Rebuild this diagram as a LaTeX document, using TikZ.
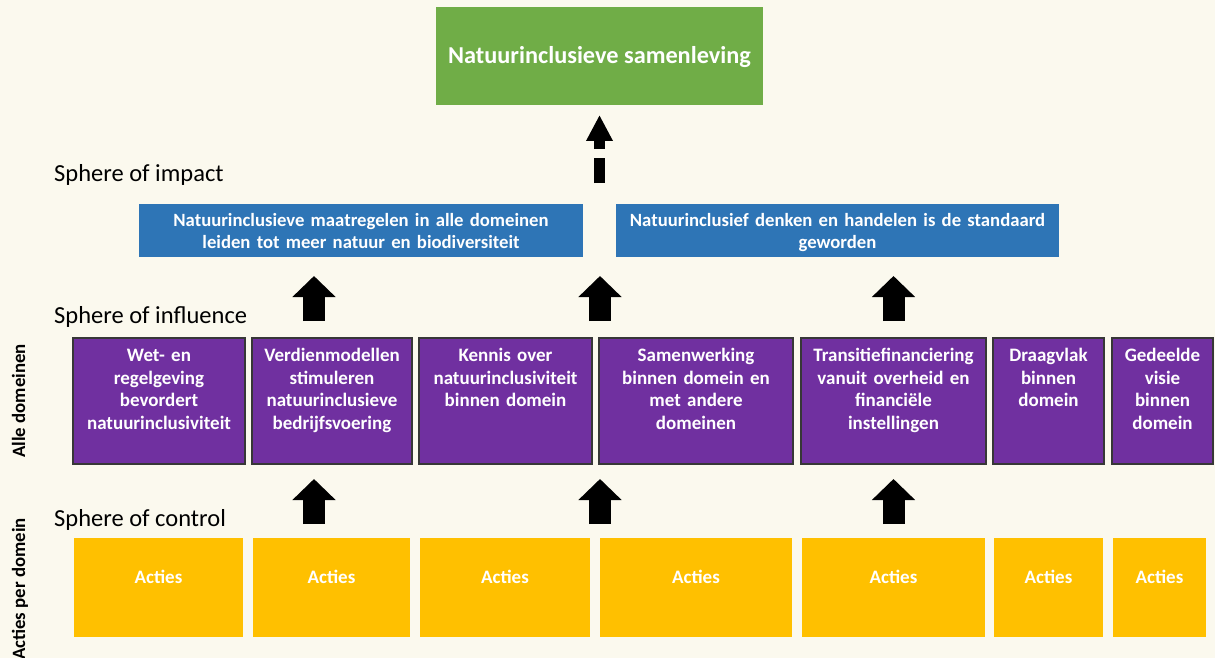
\documentclass[tikz,border=0pt]{standalone}
\usepackage{fontspec}
\setmainfont{Carlito}
\usetikzlibrary{arrows.meta}
\definecolor{bgc}{RGB}{251,249,238}
\definecolor{grn}{RGB}{112,173,71}
\definecolor{blu}{RGB}{46,117,182}
\definecolor{pur}{RGB}{112,48,160}
\definecolor{yel}{RGB}{255,192,0}
\definecolor{brd}{RGB}{55,55,55}
\begin{document}
\begin{tikzpicture}[x=1pt,y=-1pt,
  boxbase/.style={anchor=north west, inner sep=0pt, outer sep=0pt},
  gbox/.style={boxbase, fill=grn},
  bbox/.style={boxbase, fill=blu},
  pbox/.style={boxbase, fill=pur, draw=brd, line width=1.3pt},
  ybox/.style={boxbase, fill=yel},
  wtxt/.style={text=white, font=\fontsize{19}{22.5}\selectfont\bfseries, align=center, inner sep=0pt, anchor=base},
  sphere/.style={font=\fontsize{24.5}{28}\selectfont, anchor=base west, inner sep=0pt},
  side/.style={font=\fontsize{18.8}{20}\selectfont\bfseries, rotate=90, inner sep=0pt, anchor=base},
  blockarrow/.style={line width=22pt, -{Triangle[width=42pt,length=21pt]}},
]
\fill[bgc] (0,0) rectangle (1215,658);
\useasboundingbox (0,0) rectangle (1215,658);

% top
\node[gbox, minimum width=327pt, minimum height=98pt] (top) at (436,7) {};
\node[wtxt, font=\fontsize{24.3}{28}\selectfont\bfseries] (topt) at (599.5,64) {Natuurinclusieve samenleving};

% dashed arrow
\coordinate (da1) at (599.5,149);
\coordinate (da2) at (599.5,115);
\coordinate (dd1) at (599.5,183);
\coordinate (dd2) at (599.5,158);
\draw[line width=11pt, -{Triangle[width=25pt,length=26pt]}] (da1) -- (da2);
\draw[line width=11pt] (dd1) -- (dd2);

% sphere labels
\node[sphere] (simp) at (54,181) {Sphere of impact};
\node[sphere] (sinf) at (54,323) {Sphere of influence};
\node[sphere] (scon) at (54,526) {Sphere of control};

% blue
\node[bbox, minimum width=444pt, minimum height=53pt] (b1) at (139,204) {};
\node[bbox, minimum width=443pt, minimum height=53pt] (b2) at (616,204) {};
\node[wtxt, text width=440pt, font=\fontsize{18.7}{22}\selectfont\bfseries] (b1t) at (361,226) {Natuurinclusieve maatregelen in alle domeinen\\leiden tot meer natuur en biodiversiteit};
\node[wtxt, text width=440pt, font=\fontsize{18.7}{22}\selectfont\bfseries] (b2t) at (837.5,226) {Natuurinclusief denken en handelen is de standaard\\geworden};

% purple
\node[pbox, minimum width=172pt, minimum height=126pt] (p1) at (73,338) {};
\node[pbox, minimum width=160pt, minimum height=126pt] (p2) at (252,338) {};
\node[pbox, minimum width=173pt, minimum height=126pt] (p3) at (419,338) {};
\node[pbox, minimum width=194pt, minimum height=126pt] (p4) at (599,338) {};
\node[pbox, minimum width=185pt, minimum height=126pt] (p5) at (801,338) {};
\node[pbox, minimum width=111pt, minimum height=126pt] (p6) at (993,338) {};
\node[pbox, minimum width=101pt, minimum height=126pt] (p7) at (1112,338) {};

\node[wtxt, text width=172pt] (p1t) at (159,361.5) {Wet- en\\regelgeving\\bevordert\\natuurinclusiviteit};
\node[wtxt, text width=160pt] (p2t) at (332,361.5) {Verdienmodellen\\stimuleren\\natuurinclusieve\\bedrijfsvoering};
\node[wtxt, text width=172pt] (p3t) at (505.5,361.5) {Kennis over\\natuurinclusiviteit\\binnen domein};
\node[wtxt, text width=192pt] (p4t) at (696,361.5) {Samenwerking\\binnen domein en\\met andere\\domeinen};
\node[wtxt, text width=185pt] (p5t) at (893.5,361.5) {Transitiefinanciering\\vanuit overheid en\\financiële\\instellingen};
\node[wtxt, text width=110pt] (p6t) at (1048.5,361.5) {Draagvlak\\binnen\\domein};
\node[wtxt, text width=100pt] (p7t) at (1162.5,361.5) {Gedeelde\\visie\\binnen\\domein};

% yellow
\node[ybox, minimum width=169pt, minimum height=99pt] (y1) at (74,538) {};
\node[ybox, minimum width=157pt, minimum height=99pt] (y2) at (253,538) {};
\node[ybox, minimum width=170pt, minimum height=99pt] (y3) at (420,538) {};
\node[ybox, minimum width=192pt, minimum height=99pt] (y4) at (600,538) {};
\node[ybox, minimum width=183pt, minimum height=99pt] (y5) at (802,538) {};
\node[ybox, minimum width=109pt, minimum height=99pt] (y6) at (994,538) {};
\node[ybox, minimum width=93pt, minimum height=99pt] (y7) at (1113,538) {};
\foreach \i/\x in {1/158.5,2/331.5,3/505,4/696,5/893.5,6/1048.5,7/1159.5}
  \node[wtxt] (y\i t) at (\x,583) {Acties};

% side labels
\node[side] (sa) at (25,401) {Alle domeinen};
\node[side] (sb) at (25,589) {Acties per domein};

% block arrows
\foreach \n/\x in {1/314,2/600,3/893.5}{
  \coordinate (ua\n) at (\x,321);
  \coordinate (ub\n) at (\x,276);
  \coordinate (la\n) at (\x,524);
  \coordinate (lb\n) at (\x,479);
  \draw[blockarrow] (ua\n) -- (ub\n);
  \draw[blockarrow] (la\n) -- (lb\n);
}
\end{tikzpicture}
\end{document}
